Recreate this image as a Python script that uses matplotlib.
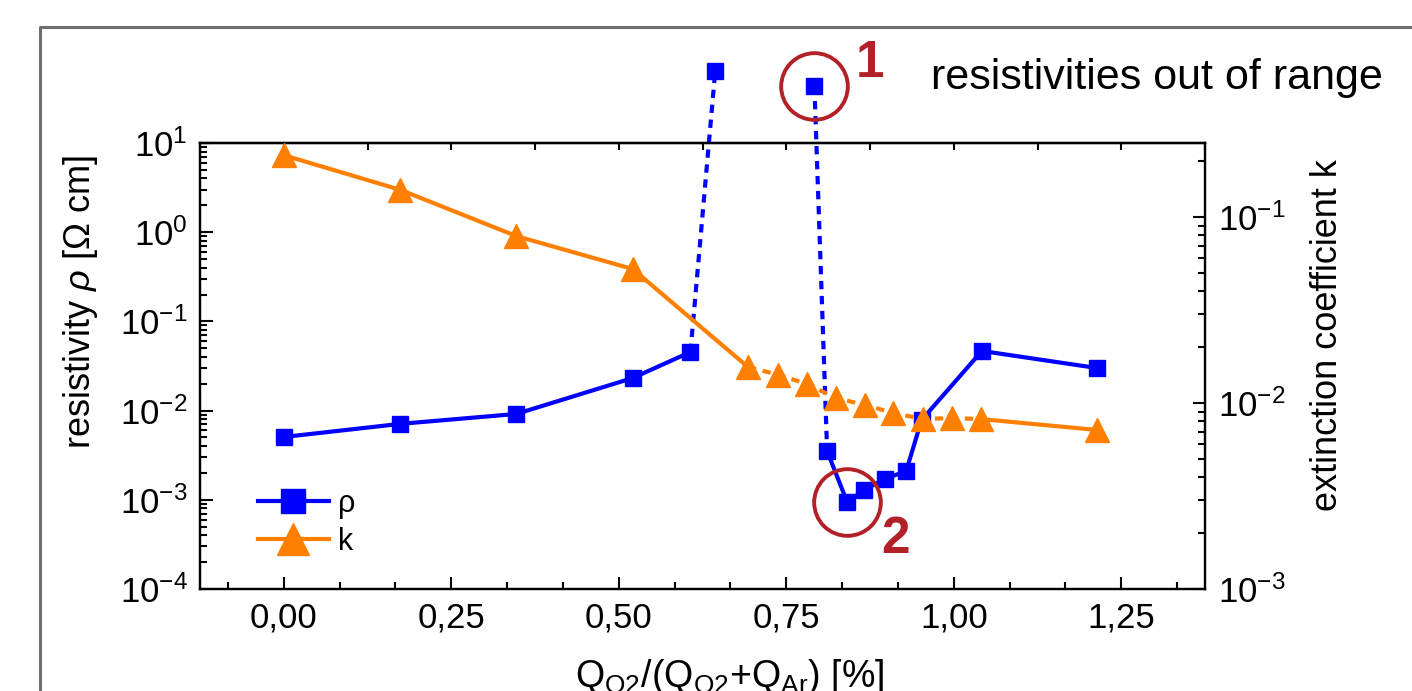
import numpy as np
import matplotlib
matplotlib.use('Agg')
import matplotlib.pyplot as plt
from matplotlib.lines import Line2D
from matplotlib.ticker import LogLocator, MultipleLocator, NullFormatter

plt.rcParams['font.family'] = ['Liberation Sans', 'DejaVu Sans']
plt.rcParams['mathtext.fontset'] = 'custom'
plt.rcParams['mathtext.rm'] = 'Liberation Sans'
plt.rcParams['mathtext.it'] = 'Liberation Sans:italic'
plt.rcParams['mathtext.bf'] = 'Liberation Sans:bold'
plt.rcParams['axes.unicode_minus'] = False

# resistivity rho [Ohm cm]
x_rho = [0.0, 0.174, 0.347, 0.521, 0.607, 0.644, 0.792, 0.811, 0.841,
         0.866, 0.897, 0.929, 0.952, 1.042, 1.214]
rho = [0.00506, 0.0071, 0.00917, 0.0232, 0.0454, 64.0, 43.5, 0.00352, 0.00094,
       0.00129, 0.00171, 0.0021, 0.00785, 0.0466, 0.030]

# extinction coefficient k
x_k = [0.0, 0.174, 0.347, 0.521, 0.693, 0.738, 0.781, 0.824, 0.868,
       0.91, 0.954, 0.997, 1.04, 1.214]
k = [0.215, 0.140, 0.079, 0.0525, 0.0156, 0.0142, 0.01265, 0.01064, 0.00975,
     0.00883, 0.0082, 0.0083, 0.0082, 0.00716]

xticks = [0.0, 0.25, 0.5, 0.75, 1.0, 1.25]
xticklabels = ['0,00', '0,25', '0,50', '0,75', '1,00', '1,25']

blue = '#0000ff'
orange = '#ff8000'
red = '#b22028'

fig = plt.figure(figsize=(14.12, 6.91), dpi=100)
ax = fig.add_axes([200/1412, 1 - 589/691, 1005/1412, 446/691])
ax2 = ax.twinx()

lw = 3
dash = (0, (2, 1.6))
# rho line pieces: solid / dotted to out-of-range points / solid
ax.plot(x_rho[0:5], rho[0:5], color=blue, lw=lw)
ax.plot(x_rho[4:6], rho[4:6], color=blue, lw=lw, ls=dash, clip_on=False)
ax.plot(x_rho[6:8], rho[6:8], color=blue, lw=lw, ls=dash, clip_on=False)
ax.plot(x_rho[7:], rho[7:], color=blue, lw=lw)
ax.plot(x_rho, rho, ls='none', marker='s', ms=12, color=blue, clip_on=False,
        zorder=3)

# highlight circles
ax.plot(x_rho[6], rho[6], ls='none', marker='o', ms=48, mfc='none', mec=red,
        mew=2.8, clip_on=False, zorder=4)
ax.plot(x_rho[8], rho[8], ls='none', marker='o', ms=48, mfc='none', mec=red,
        mew=2.8, clip_on=False, zorder=4)
ax.annotate('1', xy=(x_rho[6], rho[6]), xytext=(40, 16), textcoords='offset points',
            ha='center', va='center', fontsize=37, fontweight='bold', color=red,
            annotation_clip=False)
ax.annotate('2', xy=(x_rho[8], rho[8]), xytext=(35, -27), textcoords='offset points',
            ha='center', va='center', fontsize=37, fontweight='bold', color=red,
            annotation_clip=False)

# k line pieces
ax2.plot(x_k[0:5], k[0:5], color=orange, lw=lw)
ax2.plot(x_k[4:13], k[4:13], color=orange, lw=lw, ls=dash)
ax2.plot(x_k[12:], k[12:], color=orange, lw=lw)
ax2.plot(x_k, k, ls='none', marker='^', ms=17, color=orange, zorder=3)

ax.set_xlim(-0.125, 1.375)
ax.set_yscale('log')
ax.set_ylim(1e-4, 1e1)
ax2.set_yscale('log')
ax2.set_ylim(1e-3, 10**-0.602)

ax.set_xticks(xticks)
ax.set_xticklabels(xticklabels)
ax.xaxis.set_minor_locator(MultipleLocator(0.25/3))
ax.yaxis.set_major_locator(LogLocator(base=10, numticks=10))
ax.yaxis.set_minor_locator(LogLocator(base=10, subs=np.arange(2, 10), numticks=20))
ax.yaxis.set_minor_formatter(NullFormatter())
ax2.yaxis.set_major_locator(LogLocator(base=10, numticks=10))
ax2.yaxis.set_minor_locator(LogLocator(base=10, subs=np.arange(2, 10), numticks=20))
ax2.yaxis.set_minor_formatter(NullFormatter())

for a in (ax, ax2):
    for s in a.spines.values():
        s.set_linewidth(1.6)
ax.tick_params(axis='both', which='major', direction='in', length=9, width=1.5,
               labelsize=25, pad=9)
ax.tick_params(axis='both', which='minor', direction='in', length=5, width=1.5)
ax.tick_params(axis='x', which='both', top=False)
ax2.tick_params(axis='y', which='major', direction='in', length=9, width=1.5,
                labelsize=25, pad=9)
ax2.tick_params(axis='y', which='minor', direction='in', length=5, width=1.5)

top = ax.secondary_xaxis('top')
top.set_xticks(np.arange(-0.125, 1.376, 0.125))
top.set_xticklabels([])
top.tick_params(direction='in', length=5, width=1.5)
top.spines['top'].set_linewidth(1.6)

ax.set_xlabel(r'Q$_\mathregular{O2}$/(Q$_\mathregular{O2}$+Q$_\mathregular{Ar}$) [%]',
              fontsize=27)
ax.xaxis.set_label_coords(0.527, -0.152)
ax.set_ylabel(r'resistivity $\rho$ [Ω cm]', fontsize=26)
ax.yaxis.set_label_coords(-0.0995, 0.643)
ax2.set_ylabel('extinction coefficient k', fontsize=26)
ax2.yaxis.set_label_coords(1.1045, 0.57)

handles = [Line2D([], [], color=blue, lw=lw, marker='s', ms=17),
           Line2D([], [], color=orange, lw=lw, marker='^', ms=23)]
ax2.legend(handles, ['ρ', 'k'], loc='center left', bbox_to_anchor=(0.058, 0.148),
           frameon=False, fontsize=22, handlelength=2.3, handletextpad=0.3,
           labelspacing=0.25, borderpad=0, borderaxespad=0)

fig.text(1157/1412, 1 - 78/691, 'resistivities out of range', fontsize=31,
         ha='center', va='center')

# outer frame
fig.add_artist(Line2D([40/1412, 40/1412, 1.0], [0.0, 1 - 27/691, 1 - 27/691],
                      transform=fig.transFigure, color='#6e6e6e', lw=2.2))

fig.savefig('out.png', dpi=100)
